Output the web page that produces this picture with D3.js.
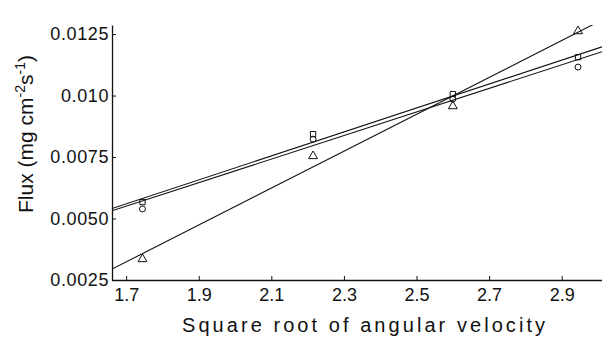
<!DOCTYPE html>
<html lang="en">
  <head>
    <meta charset="utf-8">
    <title>Flux vs angular velocity</title>
    <script src="https://d3js.org/d3.v7.min.js"></script>
    <style type="text/css">
      html, body {
        margin: 0; padding: 0;
        background: #fff;
      }
      svg { font-family: "Liberation Sans", Arial, sans-serif; }
    </style>
  </head>
  <body>
    <svg width="602" height="337"></svg>
    <script type="text/javascript">

      // data
      var xVals = [1.745, 2.215, 2.6, 2.945];
      var triangleVals = [0.00339, 0.00758, 0.00961, 0.01266];
      var squareVals = [0.00563, 0.00839, 0.01002, 0.01152];
      var circleVals = [0.00547, 0.00831, 0.00994, 0.01124];
      var xTicks = [1.7, 1.9, 2.1, 2.3, 2.5, 2.7, 2.9];
      var yTicks = [0.0025, 0.0050, 0.0075, 0.010, 0.0125];
      var yTickLabels = ["0.0025", "0.0050", "0.0075", "0.010", "0.0125"];

      var mLeft = 112, mRight = 602, mTop = 25, mBottom = 280;

      var x = d3.scaleLinear().domain([1.661, 3.011]).range([mLeft, mRight]);
      var y = d3.scaleLinear().domain([0.0025, 0.01287]).range([mBottom, mTop]);

      var svg = d3.select("svg");

      svg.append("clipPath").attr("id", "plot")
        .append("rect")
        .attr("x", mLeft).attr("y", mTop)
        .attr("width", mRight - mLeft).attr("height", mBottom - mTop);

      // least squares line for a series
      function fit(ys) {
        var mx = d3.mean(xVals), my = d3.mean(ys);
        var sxy = d3.sum(xVals, function(v, i) { return (v - mx) * (ys[i] - my); });
        var sxx = d3.sum(xVals, function(v) { return (v - mx) * (v - mx); });
        var b = sxy / sxx;
        return function(v) { return my + b * (v - mx); };
      }

      var series = [
        {vals: triangleVals, shape: d3.symbolTriangle, size: 34, dy: 1},
        {vals: squareVals, shape: d3.symbolSquare, size: 28, dy: -1},
        {vals: circleVals, shape: d3.symbolCircle, size: 28, dy: 2}
      ];

      var lineG = svg.append("g").attr("clip-path", "url(#plot)");
      series.forEach(function(s) {
        var f = fit(s.vals);
        var dom = x.domain();
        lineG.append("line")
          .attr("x1", x(dom[0])).attr("y1", y(f(dom[0])))
          .attr("x2", x(dom[1])).attr("y2", y(f(dom[1])))
          .attr("stroke", "#111")
          .attr("stroke-width", 1.1);
      });

      series.forEach(function(s) {
        svg.append("g").selectAll("path")
          .data(s.vals)
          .enter()
          .append("path")
          .attr("d", d3.symbol().type(s.shape).size(s.size))
          .attr("transform", function(d, i) {
            return "translate(" + x(xVals[i]) + "," + (y(d) + s.dy) + ")";
          })
          .attr("fill", "none")
          .attr("stroke", "#111")
          .attr("stroke-width", 1);
      });

      // axes
      var xAxis = d3.axisBottom(x).tickValues(xTicks).tickSize(-4)
        .tickFormat(d3.format(".1f")).tickSizeOuter(0);
      var gx = svg.append("g")
        .attr("transform", "translate(0," + mBottom + ")")
        .call(xAxis);
      gx.selectAll("text").attr("dy", "1.0em").style("font-size", "18px")
        .attr("fill", "#111").attr("y", 3);

      var yAxis = d3.axisLeft(y).tickValues(yTicks).tickSize(-4)
        .tickFormat(function(d, i) { return yTickLabels[i]; }).tickSizeOuter(0);
      var gy = svg.append("g")
        .attr("transform", "translate(" + mLeft + ",0)")
        .call(yAxis);
      gy.selectAll("text").attr("x", -3).style("font-size", "18px")
        .style("letter-spacing", "0.6px").attr("fill", "#111");

      svg.selectAll(".domain").attr("stroke", "#111").attr("stroke-width", 1.3);
      svg.selectAll(".tick line").attr("stroke", "#111");

      // titles
      svg.append("text")
        .attr("x", 182).attr("y", 332)
        .attr("textLength", 363).attr("lengthAdjust", "spacing")
        .style("font-size", "20px").attr("fill", "#111")
        .text("Square root of angular velocity");

      var yt = svg.append("text")
        .attr("transform", "translate(33,134) rotate(-90)")
        .attr("text-anchor", "middle")
        .style("font-size", "21px").attr("fill", "#111");
      yt.append("tspan").text("Flux (mg cm");
      yt.append("tspan").attr("dy", -8).style("font-size", "14px").text("-2");
      yt.append("tspan").attr("dy", 8).text("s");
      yt.append("tspan").attr("dy", -8).style("font-size", "14px").text("-1");
      yt.append("tspan").attr("dy", 8).text(")");

    </script>
  </body>
</html>
